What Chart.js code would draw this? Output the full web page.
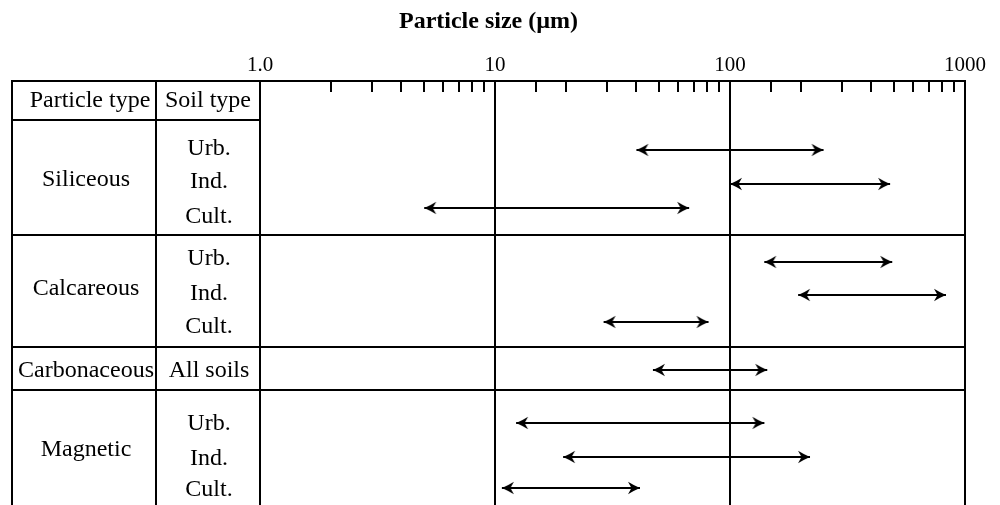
<!DOCTYPE html>
<html>
<head>
<meta charset="utf-8">
<script src="https://cdn.jsdelivr.net/npm/chart.js@4.4.0/dist/chart.umd.min.js"></script>
<style>
  html, body { margin: 0; padding: 0; background: #fff; }
</style>
</head>
<body>
<canvas id="chart" width="1000" height="505"></canvas>
<script>
// particle size ranges (µm)
const particleTypes = ['Siliceous', 'Calcareous', 'Carbonaceous', 'Magnetic'];
const soilTypes = ['Urb.', 'Ind.', 'Cult.', 'Urb.', 'Ind.', 'Cult.', 'All soils', 'Urb.', 'Ind.', 'Cult.'];
const rangeMin = [40, 100, 5, 140, 195, 29, 47, 12.3, 19.5, 10.7];
const rangeMax = [250, 480, 67, 490, 830, 81, 144, 140, 219, 41.4];

// vertical positions in row units (0 = top border of the table)
const arrowRow = [6.9, 10.3, 12.7, 18.1, 21.4, 24.1, 28.9, 34.2, 37.6, 40.7];
const soilRow = [6.8, 10.1, 13.6, 17.8, 21.3, 24.6, 29.0, 34.3, 37.8, 40.9];
const groupRow = [9.9, 20.8, 29.0, 36.9];
const dividerRow = [15.4, 26.6, 30.9];
const headerRow = 2.0;
const headerLine = 3.9;

const xTicks = [1, 10, 100, 1000];
const xTickLabels = ['1.0', '10', '100', '1000'];

const serif = "'Liberation Serif', 'Times New Roman', serif";
Chart.defaults.font.family = serif;
Chart.defaults.color = '#000';

// arrow head, tip at the centre of the image so it sits on the end point
const arrowImg = document.createElement('canvas');
arrowImg.width = 26;
arrowImg.height = 14;
(function () {
  const c = arrowImg.getContext('2d');
  c.fillStyle = '#000';
  c.beginPath();
  c.moveTo(13, 7);
  c.quadraticCurveTo(6, 4, 1, 0.8);
  c.lineTo(4.5, 7);
  c.lineTo(1, 13.2);
  c.quadraticCurveTo(6, 10, 13, 7);
  c.closePath();
  c.fill();
})();

const datasets = rangeMin.map((lo, i) => ({
  label: soilTypes[i],
  data: [{ x: lo, y: arrowRow[i] }, { x: rangeMax[i], y: arrowRow[i] }],
  borderColor: '#000',
  borderWidth: 2,
  pointStyle: arrowImg,
  pointRadius: 6,
  pointRotation: [180, 0],
  fill: false
}));

// table on the left, inner minor ticks along the top
const tablePlugin = {
  id: 'table',
  afterDraw(chart) {
    const ctx = chart.ctx;
    const area = chart.chartArea;
    const xs = chart.scales.x;
    const ys = chart.scales.y;
    const left = 12, col = 156;

    ctx.save();
    ctx.strokeStyle = '#000';
    ctx.lineWidth = 2;
    ctx.beginPath();
    // outer top border of the table part
    ctx.moveTo(left - 1, area.top);
    ctx.lineTo(area.left, area.top);
    // header line
    ctx.moveTo(left, ys.getPixelForValue(headerLine));
    ctx.lineTo(area.left, ys.getPixelForValue(headerLine));
    dividerRow.forEach(r => {
      const y = ys.getPixelForValue(r);
      ctx.moveTo(left, y);
      ctx.lineTo(area.right, y);
    });
    ctx.moveTo(left, area.top);
    ctx.lineTo(left, area.bottom);
    ctx.moveTo(col, area.top);
    ctx.lineTo(col, area.bottom);
    // minor ticks pointing into the plot
    xs.ticks.forEach(t => {
      if (xTicks.includes(t.value)) return;
      const x = Math.round(xs.getPixelForValue(t.value));
      ctx.moveTo(x, area.top);
      ctx.lineTo(x, area.top + 11);
    });
    ctx.stroke();

    ctx.fillStyle = '#000';
    ctx.font = '24px ' + serif;
    ctx.textBaseline = 'middle';
    ctx.textAlign = 'center';
    ctx.fillText('Particle type', 90, ys.getPixelForValue(headerRow));
    ctx.fillText('Soil type', 208, ys.getPixelForValue(headerRow));
    particleTypes.forEach((p, i) => {
      ctx.fillText(p, 86, ys.getPixelForValue(groupRow[i]));
    });
    soilTypes.forEach((s, i) => {
      ctx.fillText(s, 209, ys.getPixelForValue(soilRow[i]));
    });
    ctx.restore();
  }
};

new Chart(document.getElementById('chart'), {
  type: 'line',
  data: { datasets: datasets },
  options: {
    responsive: false,
    animation: false,
    devicePixelRatio: 1,
    layout: { autoPadding: false, padding: { left: 12, right: 35, top: 0, bottom: 0 } },
    plugins: {
      legend: { display: false },
      tooltip: { enabled: false },
      title: {
        display: true,
        text: 'Particle size (µm)',
        color: '#000',
        font: { family: serif, size: 24, weight: 'bold', lineHeight: '24px' },
        padding: { top: 10, bottom: 6 }
      }
    },
    scales: {
      x: {
        type: 'logarithmic',
        position: 'top',
        min: 1,
        max: 1000,
        afterFit: s => { s.height = 41; s.paddingLeft = 0; s.paddingRight = 0; },
        ticks: {
          autoSkip: false,
          maxRotation: 0,
          padding: 5,
          color: '#000',
          font: { family: serif, size: 21, lineHeight: '22px' },
          callback: v => {
            const i = xTicks.indexOf(v);
            return i >= 0 ? xTickLabels[i] : '';
          }
        },
        grid: {
          drawTicks: false,
          lineWidth: 2,
          color: c => (c.tick && xTicks.includes(c.tick.value)) ? '#000' : 'rgba(0,0,0,0)'
        },
        border: { display: true, color: '#000', width: 2 }
      },
      y: {
        type: 'linear',
        reverse: true,
        min: 0,
        max: 42.4,
        afterFit: s => { s.width = 248; s.paddingTop = 0; s.paddingBottom = 0; },
        ticks: { display: false },
        grid: { display: false },
        border: { display: false }
      }
    }
  },
  plugins: [tablePlugin]
});
</script>
</body>
</html>
